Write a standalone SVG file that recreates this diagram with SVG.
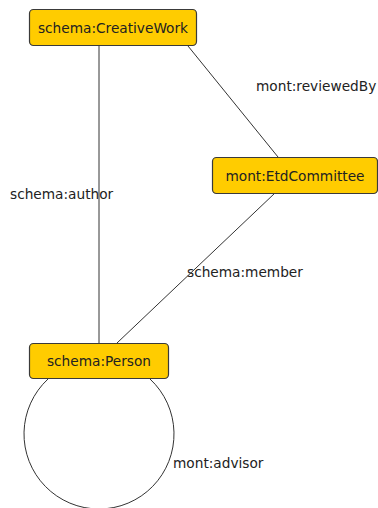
<svg xmlns="http://www.w3.org/2000/svg" width="378" height="508" viewBox="0 0 378 508">
<style>
.box{fill:#FFCC00;stroke:#3a3a3a;stroke-width:1.2}
.nt{font-family:"DejaVu Sans",sans-serif;font-size:13.7px;fill:#222;text-anchor:middle}
.el{font-family:"DejaVu Sans",sans-serif;font-size:13.7px;fill:#222}
.ln{stroke:#333;stroke-width:1;fill:none}
</style>
<rect width="378" height="508" fill="#fff"/>
<g id="connectors">
<line class="ln" x1="99" y1="46" x2="99" y2="343"/>
<line class="ln" x1="188" y1="46" x2="278" y2="157"/>
<line class="ln" x1="275" y1="193" x2="117" y2="343"/>
<path class="ln" d="M48 379 A75 75 0 1 0 150 379"/>
<text class="el" x="256" y="91">mont:reviewedBy</text>
<text class="el" x="10" y="199">schema:author</text>
<text class="el" x="187" y="277">schema:member</text>
<text class="el" x="173" y="468">mont:advisor</text>
</g>
<g id="creativework">
<rect class="box" x="29.5" y="9.5" width="167" height="36" rx="4"/>
<text class="nt" x="113" y="33">schema:CreativeWork</text>
</g>
<g id="etdcommittee">
<rect class="box" x="212.5" y="157.5" width="165" height="36" rx="4"/>
<text class="nt" x="295" y="181">mont:EtdCommittee</text>
</g>
<g id="person">
<rect class="box" x="29.5" y="343.5" width="139" height="35" rx="4"/>
<text class="nt" x="99" y="366">schema:Person</text>
</g>
</svg>
